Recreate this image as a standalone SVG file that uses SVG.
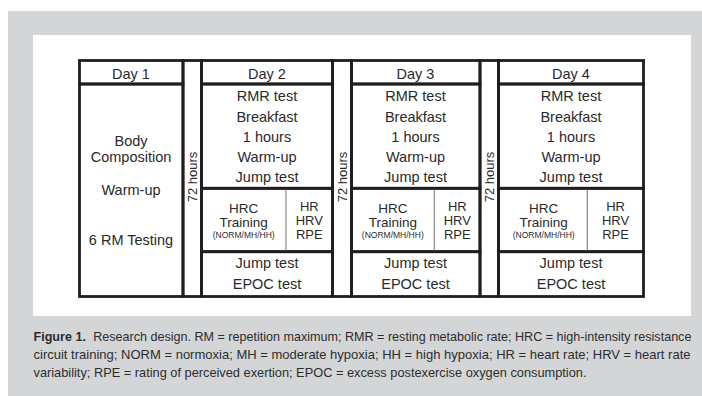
<svg xmlns="http://www.w3.org/2000/svg" width="702" height="396" viewBox="0 0 702 396">
<style>
.box{fill:none;stroke:#1e1e1e;stroke-width:2.8}
.thin{stroke:#8a8a8a;stroke-width:1.2}
text{font-family:"Liberation Sans",Arial,sans-serif;fill:#2a2a2a}
.t{font-size:14.5px;text-anchor:middle}
.s{font-size:13.5px;text-anchor:middle}
.r{font-size:13px;text-anchor:middle}
.xs{font-size:8.5px;text-anchor:middle}
.v{font-size:13px;text-anchor:middle}
.cap{font-size:13px;fill:#2d2d2d}
</style>
<rect x="0" y="0" width="702" height="396" fill="#ffffff"/>
<rect x="8" y="11" width="694" height="385" fill="#d4d5d7"/>
<rect x="33" y="35" width="658" height="281" fill="#ffffff"/>

<g id="day1">
<rect class="box" x="79.5" y="60.5" width="103.5" height="23.5"/>
<rect class="box" x="79.5" y="84" width="103.5" height="212.5"/>
<text class="t" x="131" y="78.5">Day 1</text>
<text class="t" x="131" y="145.9">Body</text>
<text class="t" x="131" y="161.9">Composition</text>
<text class="t" x="131" y="195.2">Warm-up</text>
<text class="t" x="131" y="245.2">6 RM Testing</text>
</g>

<g id="gap1">
<rect class="box" x="183" y="60.5" width="18.5" height="236"/>
<text class="v" transform="translate(197.2,177) rotate(-90)">72 hours</text>
</g>

<g id="day2">
<rect class="box" x="201.5" y="60.5" width="131" height="23.5"/>
<rect class="box" x="201.5" y="84" width="131" height="104.3"/>
<rect class="box" x="201.5" y="188.3" width="131" height="63.4"/>
<rect class="box" x="201.5" y="251.7" width="131" height="44.8"/>
<line class="thin" x1="286" y1="189.7" x2="286" y2="250.3"/>
<text class="t" x="267" y="78.5">Day 2</text>
<text class="t" x="267" y="101.3">RMR test</text>
<text class="t" x="267" y="121.5">Breakfast</text>
<text class="t" x="267" y="141.7">1 hours</text>
<text class="t" x="267" y="161.9">Warm-up</text>
<text class="t" x="267" y="182.1">Jump test</text>
<text class="s" x="243.7" y="212.5">HRC</text>
<text class="s" x="243.7" y="226.8">Training</text>
<text class="xs" x="243.7" y="238.2">(NORM/MH/HH)</text>
<text class="r" x="309.3" y="210.5">HR</text>
<text class="r" x="309.3" y="224.9">HRV</text>
<text class="r" x="309.3" y="239.3">RPE</text>
<text class="t" x="267" y="267.9">Jump test</text>
<text class="t" x="267" y="288.5">EPOC test</text>
</g>

<g id="gap2">
<rect class="box" x="332.5" y="60.5" width="19" height="236"/>
<text class="v" transform="translate(346.5,177) rotate(-90)">72 hours</text>
</g>

<g id="day3">
<rect class="box" x="351.5" y="60.5" width="128.5" height="23.5"/>
<rect class="box" x="351.5" y="84" width="128.5" height="104.3"/>
<rect class="box" x="351.5" y="188.3" width="128.5" height="63.4"/>
<rect class="box" x="351.5" y="251.7" width="128.5" height="44.8"/>
<line class="thin" x1="434.3" y1="189.7" x2="434.3" y2="250.3"/>
<text class="t" x="415.5" y="78.5">Day 3</text>
<text class="t" x="415.5" y="101.3">RMR test</text>
<text class="t" x="415.5" y="121.5">Breakfast</text>
<text class="t" x="415.5" y="141.7">1 hours</text>
<text class="t" x="415.5" y="161.9">Warm-up</text>
<text class="t" x="415.5" y="182.1">Jump test</text>
<text class="s" x="392.8" y="212.5">HRC</text>
<text class="s" x="392.8" y="226.8">Training</text>
<text class="xs" x="392.8" y="238.2">(NORM/MH/HH)</text>
<text class="r" x="457.3" y="210.5">HR</text>
<text class="r" x="457.3" y="224.9">HRV</text>
<text class="r" x="457.3" y="239.3">RPE</text>
<text class="t" x="415.5" y="267.9">Jump test</text>
<text class="t" x="415.5" y="288.5">EPOC test</text>
</g>

<g id="gap3">
<rect class="box" x="480" y="60.5" width="18.5" height="236"/>
<text class="v" transform="translate(494,177) rotate(-90)">72 hours</text>
</g>

<g id="day4">
<rect class="box" x="498.5" y="60.5" width="145" height="23.5"/>
<rect class="box" x="498.5" y="84" width="145" height="104.3"/>
<rect class="box" x="498.5" y="188.3" width="145" height="63.4"/>
<rect class="box" x="498.5" y="251.7" width="145" height="44.8"/>
<line class="thin" x1="587.3" y1="189.7" x2="587.3" y2="250.3"/>
<text class="t" x="571" y="78.5">Day 4</text>
<text class="t" x="571" y="101.3">RMR test</text>
<text class="t" x="571" y="121.5">Breakfast</text>
<text class="t" x="571" y="141.7">1 hours</text>
<text class="t" x="571" y="161.9">Warm-up</text>
<text class="t" x="571" y="182.1">Jump test</text>
<text class="s" x="543.7" y="212.5">HRC</text>
<text class="s" x="543.7" y="226.8">Training</text>
<text class="xs" x="543.7" y="238.2">(NORM/MH/HH)</text>
<text class="r" x="615.6" y="210.5">HR</text>
<text class="r" x="615.6" y="224.9">HRV</text>
<text class="r" x="615.6" y="239.3">RPE</text>
<text class="t" x="571" y="267.9">Jump test</text>
<text class="t" x="571" y="288.5">EPOC test</text>
</g>

<g id="caption">
<text class="cap" transform="translate(33.5,340.5) scale(0.86,1)" x="0" y="0" textLength="765" lengthAdjust="spacingAndGlyphs"><tspan font-weight="bold">Figure 1.</tspan><tspan dx="4"> Research design. RM = repetition maximum; RMR = resting metabolic rate; HRC = high-intensity resistance</tspan></text>
<text class="cap" transform="translate(33.5,358.5) scale(0.86,1)" x="0" y="0" textLength="764" lengthAdjust="spacingAndGlyphs">circuit training; NORM = normoxia; MH = moderate hypoxia; HH = high hypoxia; HR = heart rate; HRV = heart rate</text>
<text class="cap" transform="translate(33.5,376.5) scale(0.86,1)" x="0" y="0" textLength="643" lengthAdjust="spacingAndGlyphs">variability; RPE = rating of perceived exertion; EPOC = excess postexercise oxygen consumption.</text>
</g>
</svg>
